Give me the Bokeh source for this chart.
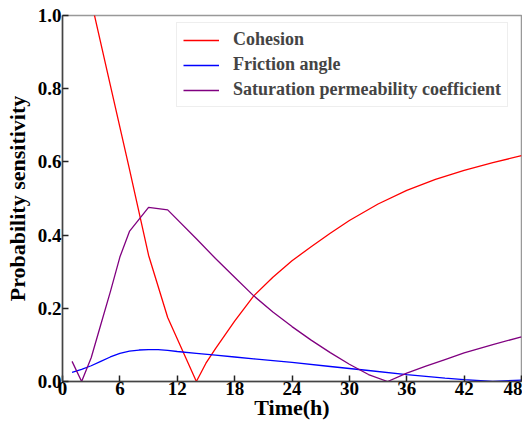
from bokeh.plotting import figure
from bokeh.models import Range1d, FixedTicker, Legend, LegendItem
from bokeh.embed import file_html
from bokeh.resources import INLINE

# Data
cohesion_t = [3, 5, 7, 9, 11, 14, 15, 16, 18, 20, 22, 24, 26, 28, 30, 33, 36, 39, 42, 45, 48]
cohesion_v = [1.04, 0.81, 0.58, 0.345, 0.175, 0.0, 0.05, 0.09, 0.165, 0.234, 0.285, 0.330, 0.368, 0.405, 0.44, 0.485, 0.522, 0.552, 0.577, 0.598, 0.617]

friction_t = [1, 2, 3, 4, 5, 6, 7, 8, 9, 10, 11, 12, 14, 16, 18, 20, 24, 28, 32, 36, 40, 42, 45, 48]
friction_v = [0.025, 0.033, 0.043, 0.055, 0.067, 0.077, 0.083, 0.086, 0.087, 0.087, 0.085, 0.082, 0.077, 0.072, 0.067, 0.062, 0.052, 0.041, 0.030, 0.019, 0.009, 0.005, 0.0, 0.004]

sat_t = [1, 2, 3, 4, 5, 6, 7, 9, 11, 14, 16, 18, 20, 22, 24, 26, 28, 30, 32, 34, 36, 38, 40, 42, 45, 48]
sat_v = [0.055, 0.0, 0.065, 0.155, 0.245, 0.34, 0.41, 0.476, 0.469, 0.39, 0.336, 0.285, 0.234, 0.19, 0.15, 0.113, 0.079, 0.047, 0.019, 0.0, 0.023, 0.042, 0.06, 0.078, 0.101, 0.122]

x_ticks = [0, 6, 12, 18, 24, 30, 36, 42, 48]
y_ticks = [0.0, 0.2, 0.4, 0.6, 0.8, 1.0]

FONT = "Liberation Serif"

p = figure(width=522, height=423, output_backend="svg", toolbar_location=None,
           x_range=Range1d(0, 48), y_range=Range1d(0, 1.0))
p.min_border_left = 62
p.min_border_top = 15
p.min_border_right = 1
p.min_border_bottom = 42

p.xgrid.visible = False
p.ygrid.visible = False
p.outline_line_color = "#999999"
p.outline_line_width = 1.5

r1 = p.line(cohesion_t, cohesion_v, line_color="#ff0000", line_width=1.3)
r2 = p.line(friction_t, friction_v, line_color="#0000ff", line_width=1.3)
r3 = p.line(sat_t, sat_v, line_color="#800080", line_width=1.3)

for ax in (p.xaxis[0], p.yaxis[0]):
    ax.major_tick_in = 6
    ax.major_tick_out = 0
    ax.minor_tick_in = 0
    ax.minor_tick_out = 0
    ax.axis_line_color = "#444444"
    ax.axis_line_width = 1.5
    ax.major_tick_line_color = "#222222"
    ax.major_tick_line_width = 1.5
    ax.major_label_text_font = FONT
    ax.major_label_text_font_style = "bold"
    ax.major_label_text_font_size = "19px"
    ax.major_label_text_color = "black"
    ax.axis_label_text_font = FONT
    ax.axis_label_text_font_style = "bold"
    ax.axis_label_text_font_size = "22px"
    ax.axis_label_text_color = "black"
    ax.major_label_standoff = 1

p.xaxis[0].ticker = FixedTicker(ticks=x_ticks)
p.yaxis[0].ticker = FixedTicker(ticks=y_ticks)
p.xaxis[0].major_label_overrides = {t: str(t) for t in x_ticks}
p.yaxis[0].major_label_overrides = {t: f"{t:.1f}" for t in y_ticks}
p.xaxis[0].axis_label = "Time(h)"
p.yaxis[0].axis_label = "Probability sensitivity"
p.xaxis[0].major_label_standoff = 0
p.xaxis[0].axis_label_standoff = -3
p.yaxis[0].axis_label_standoff = 5

legend = Legend(items=[
    LegendItem(label="Cohesion", renderers=[r1]),
    LegendItem(label="Friction angle", renderers=[r2]),
    LegendItem(label="Saturation permeability coefficient", renderers=[r3]),
], location=(114, 274))
legend.label_text_font = FONT
legend.label_text_font_style = "bold"
legend.label_text_font_size = "18px"
legend.label_height = 20
legend.glyph_height = 20
legend.glyph_width = 36
legend.label_standoff = 14
legend.spacing = 4
legend.padding = 6
legend.margin = 0
legend.border_line_color = "#dddddd"
legend.border_line_width = 1
legend.background_fill_alpha = 1.0
p.add_layout(legend)

open("out.html", "w").write(file_html(p, INLINE))
